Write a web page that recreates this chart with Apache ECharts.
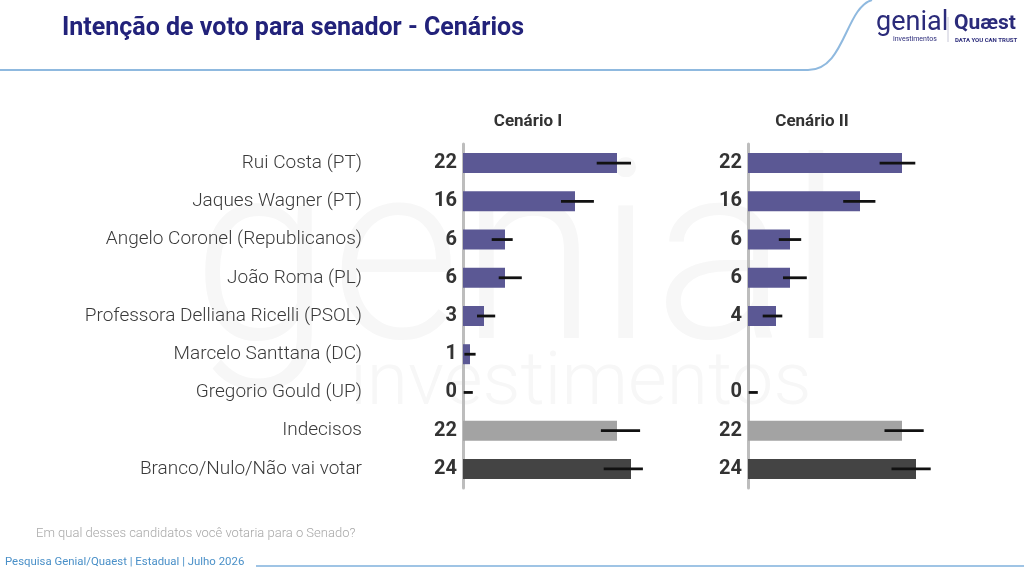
<!DOCTYPE html>
<html>
<head>
<meta charset="utf-8">
<script src="https://cdn.jsdelivr.net/npm/echarts@6/dist/echarts.min.js"></script>
<style>
html,body{margin:0;padding:0;background:#fff;}
#chart{width:1024px;height:577px;}
</style>
</head>
<body>
<div id="chart"></div>
<script>
const categories = [
  'Rui Costa (PT)',
  'Jaques Wagner (PT)',
  'Angelo Coronel (Republicanos)',
  'João Roma (PL)',
  'Professora Delliana Ricelli (PSOL)',
  'Marcelo Santtana (DC)',
  'Gregorio Gould (UP)',
  'Indecisos',
  'Branco/Nulo/Não vai votar'
];
const scenarioTitles = ['Cenário I', 'Cenário II'];
const cen1 = [22, 16, 6, 6, 3, 1, 0, 22, 24];
const cen1Low = [19.1, 14.0, 4.1, 5.1, 2.0, 0.2, 0.1, 19.7, 20.1];
const cen1High = [24.0, 18.7, 7.1, 8.4, 4.6, 1.8, 1.4, 25.3, 25.7];
const cen2 = [22, 16, 6, 6, 4, null, 0, 22, 24];
const cen2Low = [18.8, 13.6, 4.4, 5.0, 2.1, null, 0.1, 19.5, 20.5];
const cen2High = [23.9, 18.2, 7.6, 8.4, 4.9, null, 1.4, 25.1, 26.1];

const rowColors = ['#5b5894','#5b5894','#5b5894','#5b5894','#5b5894','#5b5894','#5b5894','#a3a3a3','#444444'];

const chart = echarts.init(document.getElementById('chart'));

function barSeries(values, idx) {
  return {
    type: 'bar',
    xAxisIndex: idx, yAxisIndex: idx,
    data: values.map(v => v === null ? '-' : v),
    barWidth: 20,
    itemStyle: { color: p => rowColors[p.dataIndex] },
    label: {
      show: true, position: 'left', distance: 6,
      fontFamily: 'Roboto', fontWeight: 'bold', fontSize: 20, color: '#333',
      formatter: p => p.value
    },
    silent: true, z: 2
  };
}
function errSeries(lows, highs, idx) {
  const d = [];
  lows.forEach((l, i) => { if (l !== null) d.push([l, highs[i], i]); });
  return {
    type: 'custom',
    xAxisIndex: idx, yAxisIndex: idx,
    data: d,
    encode: { x: [0, 1], y: 2 },
    renderItem: (params, api) => {
      const a = api.coord([api.value(0), api.value(2)]);
      const b = api.coord([api.value(1), api.value(2)]);
      return { type: 'line', shape: { x1: a[0], y1: a[1], x2: b[0], y2: b[1] },
               style: { stroke: '#111', lineWidth: 2.8 } };
    },
    silent: true, z: 5
  };
}

const grids = [
  { left: 463, top: 144, width: 245, height: 344 },
  { left: 748, top: 144, width: 245, height: 344 }
];

chart.setOption({
  backgroundColor: '#fff',
  animation: false,
  grid: grids,
  xAxis: grids.map((g, i) => ({
    type: 'value', gridIndex: i, min: 0, max: 35, show: false
  })),
  yAxis: grids.map((g, i) => ({
    type: 'category', gridIndex: i, data: categories, inverse: true,
    axisLine: { show: true, lineStyle: { color: '#bdbdbd', width: 3 } },
    axisTick: { show: false },
    axisLabel: i === 0 ? {
      show: true, margin: 101, fontFamily: 'Roboto', fontWeight: 300,
      fontSize: 19, color: '#3a3a3a'
    } : { show: false }
  })),
  series: [
    barSeries(cen1, 0), errSeries(cen1Low, cen1High, 0),
    barSeries(cen2, 1), errSeries(cen2Low, cen2High, 1)
  ],
  graphic: [
    // watermark
    { type: 'text', left: 192, top: 150, z: -10, silent: true,
      style: { text: 'genial', fontFamily: 'Roboto', fontWeight: 300, fontSize: 250, fill: '#f7f7f7' } },
    { type: 'text', left: 350, top: 348, z: -10, silent: true,
      style: { text: 'investimentos', fontFamily: 'Roboto', fontWeight: 300, fontSize: 75, fill: '#f7f7f7' } },
    // header
    { type: 'text', left: 62, top: 16,
      style: { text: 'Intenção de voto para senador - Cenários', fontFamily: 'Roboto', fontWeight: 'bold', fontSize: 25, fill: '#22227a' } },
    { type: 'line', silent: true, shape: { x1: 0, y1: 70, x2: 808, y2: 70 },
      style: { stroke: '#8fb9df', lineWidth: 2 } },
    { type: 'bezierCurve', silent: true,
      shape: { x1: 808, y1: 70, cpx1: 845, cpy1: 70, cpx2: 845, cpy2: 8, x2: 872, y2: 0 },
      style: { stroke: '#8fb9df', lineWidth: 2, fill: null } },
    { type: 'text', left: 876, top: 10,
      style: { text: 'genial', fontFamily: 'Roboto', fontSize: 27, fill: '#2b2b7a' } },
    { type: 'text', left: 893, top: 36,
      style: { text: 'investimentos', fontFamily: 'Roboto', fontSize: 7, fill: '#2b2b7a' } },
    { type: 'line', shape: { x1: 948, y1: 17, x2: 948, y2: 42 }, style: { stroke: '#c8c8d8', lineWidth: 1 } },
    { type: 'text', left: 954, top: 13,
      style: { text: 'Quæst', fontFamily: 'Roboto', fontWeight: 'bold', fontSize: 21, fill: '#2b2b7a' } },
    { type: 'text', left: 955, top: 37,
      style: { text: 'DATA YOU CAN TRUST', fontFamily: 'Roboto', fontWeight: 'bold', fontSize: 6, fill: '#2b2b7a' } },
    // scenario titles
    { type: 'text', x: 528, y: 122,
      style: { text: scenarioTitles[0], fontFamily: 'Roboto', fontWeight: 'bold', fontSize: 17, fill: '#333', align: 'center', verticalAlign: 'middle' } },
    { type: 'text', x: 812, y: 122,
      style: { text: scenarioTitles[1], fontFamily: 'Roboto', fontWeight: 'bold', fontSize: 17, fill: '#333', align: 'center', verticalAlign: 'middle' } },
    // footer
    { type: 'text', left: 36, top: 527,
      style: { text: 'Em qual desses candidatos você votaria para o Senado?', fontFamily: 'Roboto', fontWeight: 300, fontSize: 13, fill: '#a8a8a8' } },
    { type: 'text', left: 5, top: 557,
      style: { text: 'Pesquisa Genial/Quaest | Estadual | Julho 2026', fontFamily: 'Roboto', fontSize: 11.4, fill: '#4a90c8' } },
    { type: 'line', shape: { x1: 256, y1: 566, x2: 1024, y2: 566 }, style: { stroke: '#7fb0dc', lineWidth: 1.5 } }
  ]
});
</script>
</body>
</html>
